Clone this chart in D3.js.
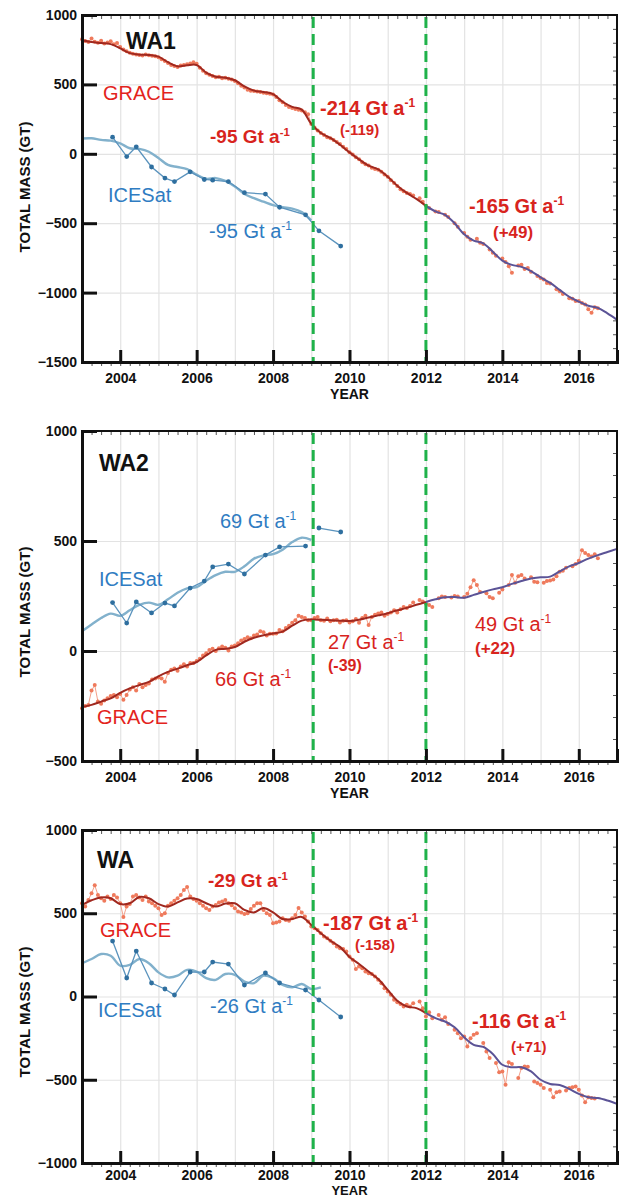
<!DOCTYPE html>
<html>
<head>
<meta charset="utf-8">
<script src="https://cdn.jsdelivr.net/npm/d3@7"></script>
<style>
  body { margin: 0; background: #fff; }
  svg { display: block; }
  text { font-family: "Liberation Sans", Arial, Helvetica, sans-serif; }
</style>
</head>
<body>
<svg id="chart" width="622" height="1198"></svg>
<script>
// ---------------- data ----------------
const yearTicks = [2004, 2006, 2008, 2010, 2012, 2014, 2016];
const periodBreaks = [2009.05, 2012.0];

// GRACE monthly mass (Gt), first value at 2003.0, one value per month, null = missing month
const graceStart = 2003.0;
const wa1Grace = [
  825, 812, 805, 830, 808, 800, 815, 795, 802, 810, 790, 798,
  770, 752, 738, 728, 720, 716, 712, 708, 715, 710, 706, 702,
  695, 682, 668, 655, 640, 632, 625, 636, 640, 645, 650, 660,
  648, 620, 598, 580, 570, 560, 552, 556, 545, 548, 540, 535,
  525, 508, 490, 478, 462, 455, 452, 448, 445, 440, 436, 432,
  428, 410, 385, 372, 352, 338, 330, 322, 318, 312, 300, 285,
  215, 190, 168, 150, 135, 120, 112, 100, 85, 70, 50, 35,
  12, -5, -25, -40, -60, -75, -85, -100, -110, -115, -130, -150,
  -165, -190, -210, -232, -255, -270, -282, -290, -300, null, -320, -345,
  -375, -390, null, -415, -420, null, -440, -455, null, -500, -525, null,
  -570, -598, -620, null, -612, -640, -650, null, -690, -712, -735, null,
  -755, -780, -810, -857, null, -805, -800, -830, -822, -850, null, -880,
  -895, -905, -930, -935, null, -975, -990, -1010, null, -1040, -1045, -1060,
  -1060, -1075, -1085, -1120, -1146, -1105, -1112
];
const wa2Grace = [
  -260, -250, -245, -180, -155, -230, -240, -225, -215, -205, -200, -210,
  -195, -222, -200, -175, -165, -180, -150, -165, -155, -148, -130, -125,
  -120, -125, -140, -100, -85, -80, -90, -70, -60, -70, -55, -55,
  -45, -35, -20, -10, 5, 10, 0, 12, 20, 15, 2, 20,
  25, 35, 48, 55, 62, 58, 70, 75, 90, 85, 70, 78,
  78, 80, 95, 90, 105, 115, 128, 140, 160, 155, 150, 140,
  140, 150, 155, 140, 138, 148, 135, 140, 142, 130, 138, 140,
  130, 135, 145, 128, 150, 160, 118, 155, 165, 170, 175, 160,
  168, 175, 185, 175, 190, 200, 195, 205, 220, null, 232, 225,
  215, 209, 200, null, 240, 248, 245, null, 243, 250, 248, null,
  245, 260, 290, 322, 300, 268, null, 262, 245, 240, null, 265,
  280, null, 300, 345, 310, 340, 346, 330, null, 335, 315, 312,
  null, 310, 318, 320, 325, 340, 360, 365, 378, null, 385, 395,
  410, 458, 445, 436, 430, 440, 422
];
const waGrace = [
  560, 540, 580, 620, 668, 610, 590, 575, 600, 585, 610, 595,
  560, 478, 540, 555, 600, 610, 595, 580, 600, 570, 560, 545,
  530, 490, 500, 545, 560, 575, 590, 610, 640, 658, 600, 585,
  575, 560, 545, 530, 520, 540, 550, 565, 570, 580, 560, 548,
  530, 510, 505, 495, 500, 525, 545, 560, 560, 520, 500, 490,
  440, 445, 450, 470, 460, 455, 470, 490, 532, 505, 480, 450,
  420, 410, 400, 380, 360, 350, 335, 320, 300, 290, 285, 270,
  240, 220, 165, 180, 170, 150, 140, 135, 120, 100, 80, 50,
  30, 10, -20, -35, -45, -60, -50, -60, -40, null, -30, -70,
  -120, -95, -130, null, -111, -140, -125, -165, null, -200, -220, -250,
  -240, -300, -250, -230, -220, null, -280, -330, -370, null, -400, -455,
  -450, -530, -395, -405, null, -490, -430, -420, -422, null, -510, -520,
  -530, -550, null, -560, -605, -575, -570, null, -565, -550, -545, -540,
  -560, -595, -635, -605, -610, -612
];

// GRACE fitted curve (Gt), quarterly from 2003.0 to 2017.0
const fitStart = 2003.0;
const wa1GraceFit = [
  818, 805, 798, 790, 760, 725, 714, 712, 700, 660, 630, 638,
  640, 585, 555, 548, 530, 485, 455, 446, 430, 375, 338, 318,
  215, 150, 114, 65, 10, -40, -85, -112, -165, -230, -282, -325,
  -375, -415, -440, -500, -580, -625, -645, -705, -770, -800, -815, -845,
  -890, -930, -980, -1030, -1065, -1095, -1110, -1150, -1196
];
const wa2GraceFit = [
  -255, -245, -230, -215, -190, -170, -155, -140, -115, -95, -80, -65,
  -50, -20, 5, 10, 18, 42, 60, 72, 80, 88, 115, 138,
  143, 142, 140, 138, 136, 142, 152, 162, 172, 185, 196, 210,
  223, 235, 244, 245, 242, 255, 268, 280, 290, 305, 318, 330,
  335, 338, 362, 385, 400, 420, 436, 450, 464
];
const waGraceFit = [
  550, 578, 595, 590, 555, 560, 598, 590, 555, 540, 565, 588,
  585, 560, 540, 558, 560, 520, 505, 532, 505, 465, 465, 478,
  430, 380, 335, 298, 237, 195, 150, 105, 40, -25, -60, -70,
  -100, -130, -150, -185, -245, -290, -303, -345, -410, -425, -425, -450,
  -500, -525, -532, -555, -585, -605, -610, -625, -645
];

// ICESat campaign epochs and mass (Gt)
const iceTimes = [2003.8, 2004.17, 2004.42, 2004.82, 2005.17, 2005.42, 2005.83, 2006.2,
                  2006.42, 2006.83, 2007.25, 2007.8, 2008.17, 2008.85, 2009.2, 2009.77];
const wa1Ice = [120, -20, 50, -95, -175, -200, -130, -185, -190, -200, -280, -290, -385, -440, -555, -665];
const wa2Ice = [220, 127, 223, 173, 218, 205, 286, 318, 382, 395, 350, 436, 473, 477, 559, 541];
const waIce  = [333, 111, 273, 81, 45, 9, 147, 147, 207, 195, 69, 141, 81, 39, -21, -123];

// ICESat fitted curve (Gt), quarterly from 2003.0
const wa1IceFit = [110, 112, 100, 95, 75, 40, 35, 15, -30, -80, -95, -110, -150,
                   -180, -175, -195, -235, -290, -320, -345, -370, -385, -395, -420, -480];
const wa2IceFit = [90, 120, 150, 170, 160, 185, 210, 220, 210, 235, 265, 285, 290,
                   320, 345, 360, 360, 385, 420, 435, 440, 460, 495, 515, 505];
const waIceFit  = [200, 225, 255, 245, 185, 190, 225, 200, 145, 115, 125, 160, 150,
                   110, 100, 135, 130, 90, 80, 125, 110, 70, 55, 75, 45, 55];

// ---------------- styles ----------------
const C = {
  graceDot: "#ef7a5c",
  graceLine: "#f3a08a",
  fitRed: "#a0281f",
  fitPurple: "#5b5396",
  iceDot: "#2f6f9f",
  iceLine: "#5a93bd",
  iceFit: "#82b1cc",
  green: "#1fb24a",
  red: "#e3231c",
  redRate: "#d8241d",
  blue: "#2f7cc2",
  grid: "#e3e3e3"
};

const panels = [
  {
    name: "WA1", top: 15, bottom: 362, domain: [-1500, 1000],
    yTicks: [1000, 500, 0, -500, -1000, -1500],
    grace: wa1Grace, graceFit: wa1GraceFit, ice: wa1Ice, iceFit: wa1IceFit,
    iceGapAfter: null, axisLabelY: 187, tickGap: 21, yearGap: 37, yearSize: 14,
    labels: [
      { t: "WA1", x: 126, y: 49, c: "#111", s: 23, w: "bold" },
      { t: "GRACE", x: 103, y: 100, c: C.red, s: 20, w: "normal" },
      { t: "-95 Gt a", sup: "-1", x: 210, y: 143, c: C.redRate, s: 19, w: "bold" },
      { t: "-214 Gt a", sup: "-1", x: 320, y: 115, c: C.redRate, s: 20, w: "bold" },
      { t: "(-119)", x: 340, y: 135, c: C.redRate, s: 15, w: "bold" },
      { t: "-165 Gt a", sup: "-1", x: 469, y: 213, c: C.redRate, s: 20, w: "bold" },
      { t: "(+49)", x: 493, y: 238, c: C.redRate, s: 17, w: "bold" },
      { t: "ICESat", x: 108, y: 202, c: C.blue, s: 20, w: "normal" },
      { t: "-95 Gt a", sup: "-1", x: 209, y: 238, c: C.blue, s: 20, w: "normal" }
    ]
  },
  {
    name: "WA2", top: 431, bottom: 761, domain: [-500, 1000],
    yTicks: [1000, 500, 0, -500],
    grace: wa2Grace, graceFit: wa2GraceFit, ice: wa2Ice, iceFit: wa2IceFit,
    iceGapAfter: 2008.85, axisLabelY: 612, tickGap: 21, yearGap: 37, yearSize: 14,
    labels: [
      { t: "WA2", x: 99, y: 471, c: "#111", s: 23, w: "bold" },
      { t: "69 Gt a", sup: "-1", x: 220, y: 528, c: C.blue, s: 20, w: "normal" },
      { t: "ICESat", x: 99, y: 586, c: C.blue, s: 20, w: "normal" },
      { t: "GRACE", x: 97, y: 724, c: C.red, s: 20, w: "normal" },
      { t: "66 Gt a", sup: "-1", x: 215, y: 686, c: C.redRate, s: 20, w: "normal" },
      { t: "27 Gt a", sup: "-1", x: 328, y: 649, c: C.redRate, s: 20, w: "normal" },
      { t: "(-39)", x: 328, y: 671, c: C.redRate, s: 16, w: "bold" },
      { t: "49 Gt a", sup: "-1", x: 475, y: 631, c: C.redRate, s: 20, w: "normal" },
      { t: "(+22)", x: 475, y: 654, c: C.redRate, s: 17, w: "bold" }
    ]
  },
  {
    name: "WA", top: 830, bottom: 1163, domain: [-1000, 1000],
    yTicks: [1000, 500, 0, -500, -1000],
    grace: waGrace, graceFit: waGraceFit, ice: waIce, iceFit: waIceFit,
    iceGapAfter: null, axisLabelY: 1012, tickGap: 17, yearGap: 32, yearSize: 13,
    labels: [
      { t: "WA", x: 97, y: 868, c: "#111", s: 23, w: "bold" },
      { t: "-29 Gt a", sup: "-1", x: 208, y: 887, c: C.redRate, s: 19, w: "bold" },
      { t: "GRACE", x: 100, y: 937, c: C.red, s: 20, w: "normal" },
      { t: "ICESat", x: 98, y: 1017, c: C.blue, s: 20, w: "normal" },
      { t: "-26 Gt a", sup: "-1", x: 210, y: 1013, c: C.blue, s: 20, w: "normal" },
      { t: "-187 Gt a", sup: "-1", x: 323, y: 930, c: C.redRate, s: 20, w: "bold" },
      { t: "(-158)", x: 355, y: 950, c: C.redRate, s: 15, w: "bold" },
      { t: "-116 Gt a", sup: "-1", x: 472, y: 1028, c: C.redRate, s: 20, w: "bold" },
      { t: "(+71)", x: 511, y: 1052, c: C.redRate, s: 15, w: "bold" }
    ]
  }
];

// ---------------- drawing ----------------
const svg = d3.select("#chart");
const plotLeft = 82, plotRight = 617;
const x = d3.scaleLinear().domain([2003, 2017]).range([plotLeft, plotRight]);
const tickFont = 14;

function drawPanel(p) {
  const y = d3.scaleLinear().domain(p.domain).range([p.bottom, p.top]);
  const g = svg.append("g").attr("class", "panel-" + p.name);
  const h = p.bottom - p.top;

  // yearly vertical grid and 500 Gt horizontal grid
  g.append("g")
    .attr("transform", `translate(0,${p.bottom})`)
    .call(d3.axisBottom(x).tickValues(d3.range(2004, 2017)).tickSize(-h).tickFormat(""))
    .call(a => a.select(".domain").remove())
    .call(a => a.selectAll("line").attr("stroke", C.grid).attr("stroke-width", 1.2));
  g.append("g")
    .attr("transform", `translate(${plotLeft},0)`)
    .call(d3.axisLeft(y).tickValues(p.yTicks).tickSize(-(plotRight - plotLeft)).tickFormat(""))
    .call(a => a.select(".domain").remove())
    .call(a => a.selectAll("line").attr("stroke", C.grid).attr("stroke-width", 1.2));

  // ICESat fitted curve
  const iceFitPts = p.iceFit.map((v, i) => [fitStart + i / 4, v]);
  g.append("path")
    .datum(iceFitPts)
    .attr("fill", "none").attr("stroke", C.iceFit).attr("stroke-width", 2.4)
    .attr("d", d3.line().x(d => x(d[0])).y(d => y(d[1])).curve(d3.curveCatmullRom));

  // ICESat campaign series
  const icePts = iceTimes.map((t, i) => [t, p.ice[i]]);
  const iceLine = d3.line().x(d => x(d[0])).y(d => y(d[1]));
  const iceSegs = p.iceGapAfter == null
    ? [icePts]
    : [icePts.filter(d => d[0] <= p.iceGapAfter), icePts.filter(d => d[0] > p.iceGapAfter)];
  g.selectAll(null).data(iceSegs).join("path")
    .attr("fill", "none").attr("stroke", C.iceLine).attr("stroke-width", 1.3)
    .attr("d", iceLine);
  g.selectAll(null).data(icePts).join("circle")
    .attr("cx", d => x(d[0])).attr("cy", d => y(d[1])).attr("r", 2.4)
    .attr("fill", C.iceDot);

  // GRACE monthly series
  const gracePts = p.grace.map((v, i) => [graceStart + i / 12, v]);
  g.append("path")
    .datum(gracePts)
    .attr("fill", "none").attr("stroke", C.graceLine).attr("stroke-width", 1)
    .attr("d", d3.line().defined(d => d[1] != null).x(d => x(d[0])).y(d => y(d[1])));
  g.selectAll(null).data(gracePts.filter(d => d[1] != null)).join("circle")
    .attr("cx", d => x(d[0])).attr("cy", d => y(d[1])).attr("r", 2)
    .attr("fill", C.graceDot);

  // GRACE fitted curve: red up to 2012, purple afterwards
  const fitPts = p.graceFit.map((v, i) => [fitStart + i / 4, v]);
  const fitLine = d3.line().x(d => x(d[0])).y(d => y(d[1])).curve(d3.curveCatmullRom);
  g.append("path")
    .datum(fitPts.filter(d => d[0] <= 2012))
    .attr("fill", "none").attr("stroke", C.fitRed).attr("stroke-width", 2)
    .attr("d", fitLine);
  g.append("path")
    .datum(fitPts.filter(d => d[0] >= 2012))
    .attr("fill", "none").attr("stroke", C.fitPurple).attr("stroke-width", 2)
    .attr("d", fitLine);

  // period boundaries
  g.selectAll(null).data(periodBreaks).join("line")
    .attr("x1", d => x(d)).attr("x2", d => x(d))
    .attr("y1", p.top + 2).attr("y2", p.bottom)
    .attr("stroke", C.green).attr("stroke-width", 3)
    .attr("stroke-dasharray", "11,6");

  // minor ticks on the frame
  const minorX = d3.range(2003.25, 2017, 0.25);
  g.append("g").attr("transform", `translate(0,${p.top})`)
    .call(d3.axisBottom(x).tickValues(minorX).tickSize(4).tickFormat(""))
    .call(a => a.select(".domain").remove())
    .call(a => a.selectAll("line").attr("stroke", "#555"));
  g.append("g").attr("transform", `translate(0,${p.bottom})`)
    .call(d3.axisBottom(x).tickValues(minorX).tickSize(4).tickFormat(""))
    .call(a => a.select(".domain").remove())
    .call(a => a.selectAll("line").attr("stroke", "#555"));
  const minorY = d3.range(p.domain[0] + 100, p.domain[1], 100);
  g.append("g").attr("transform", `translate(${plotRight},0)`)
    .call(d3.axisLeft(y).tickValues(minorY).tickSize(4).tickFormat(""))
    .call(a => a.select(".domain").remove())
    .call(a => a.selectAll("line").attr("stroke", "#555"));

  // frame
  g.append("rect")
    .attr("x", plotLeft).attr("y", p.top)
    .attr("width", plotRight - plotLeft).attr("height", h)
    .attr("fill", "none").attr("stroke", "#111").attr("stroke-width", 2);

  // major axes
  const padX = p.tickGap - Math.round(0.71 * tickFont);
  g.append("g").attr("transform", `translate(0,${p.bottom})`)
    .call(d3.axisBottom(x).tickValues(yearTicks).tickSize(-12).tickPadding(padX).tickFormat(d3.format("d")))
    .call(a => a.select(".domain").attr("stroke", "#111").attr("stroke-width", 3))
    .call(a => a.selectAll("line").attr("stroke", "#111").attr("stroke-width", 3))
    .call(a => a.selectAll("text").attr("fill", "#111").attr("font-size", tickFont).attr("font-weight", "bold")
      .attr("font-family", "'Liberation Sans', Arial, sans-serif"));
  g.append("g").attr("transform", `translate(${plotLeft},0)`)
    .call(d3.axisLeft(y).tickValues(p.yTicks).tickSize(-15).tickPadding(5).tickFormat(d3.format("d")))
    .call(a => a.select(".domain").attr("stroke", "#111").attr("stroke-width", 3))
    .call(a => a.selectAll("line").attr("stroke", "#111").attr("stroke-width", 3))
    .call(a => a.selectAll("text").attr("fill", "#111").attr("font-size", tickFont).attr("font-weight", "bold")
      .attr("font-family", "'Liberation Sans', Arial, sans-serif"));

  // axis titles
  g.append("text")
    .attr("transform", `translate(25,${p.axisLabelY}) rotate(-90)`)
    .attr("text-anchor", "middle").attr("dy", "0.35em")
    .attr("font-size", 15).attr("font-weight", "bold").attr("fill", "#111")
    .text("TOTAL MASS (GT)");
  g.append("text")
    .attr("x", x(2010)).attr("y", p.bottom + p.yearGap)
    .attr("text-anchor", "middle").attr("font-size", p.yearSize).attr("font-weight", "bold").attr("fill", "#111")
    .text("YEAR");

  // annotations
  p.labels.forEach(l => {
    const t = g.append("text")
      .attr("x", l.x).attr("y", l.y)
      .attr("fill", l.c).attr("font-size", l.s).attr("font-weight", l.w)
      .text(l.t);
    if (l.sup) {
      t.append("tspan").attr("dy", -l.s * 0.38).attr("font-size", l.s * 0.6).text(l.sup);
    }
  });
}

panels.forEach(drawPanel);
</script>
</body>
</html>
